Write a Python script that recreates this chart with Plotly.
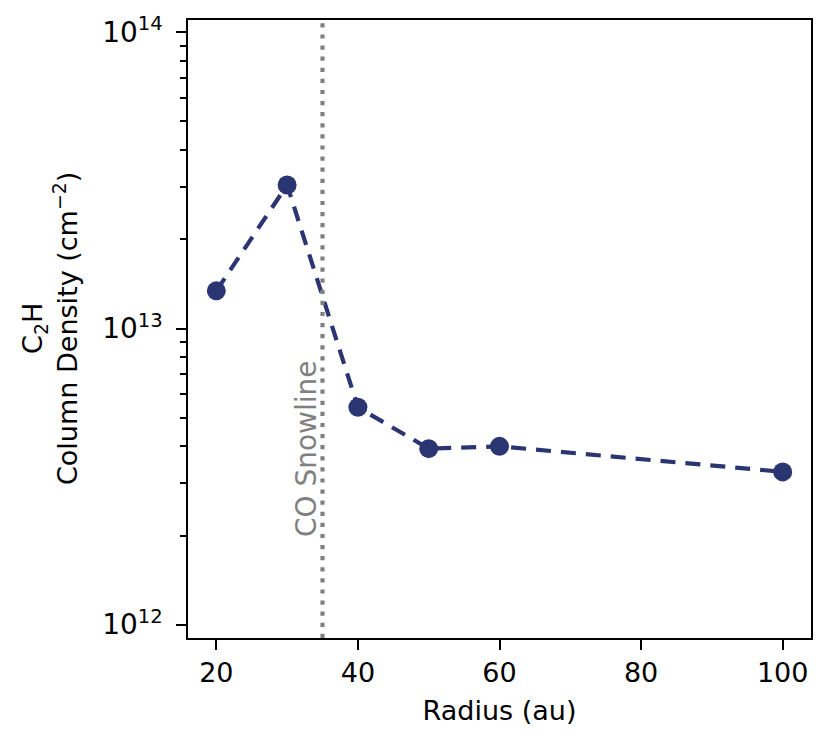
import math
import plotly.graph_objects as go

# Data
radius_au = [20, 30, 40, 50, 60, 100]
c2h_column_density = [1.34e13, 3.05e13, 5.42e12, 3.93e12, 4.0e12, 3.28e12]
co_snowline_au = 35
snowline_label = "CO Snowline"
snowline_label_y = 2.0e12

x_ticks = [20, 40, 60, 80, 100]
y_major = [1e12, 1e13, 1e14]
y_major_text = ["10<sup>12</sup>", "10<sup>13</sup>", "10<sup>14</sup>"]
y_minor = [m * d for d in (1e12, 1e13) for m in range(2, 10)]
y_title = "C<sub>2</sub>H<br>Column Density (cm<sup>\u22122</sup>)"

FONT = "DejaVu Sans"
FS = 27
NAVY = "#2a3572"

fig = go.Figure()
fig.add_trace(go.Scatter(
    x=radius_au, y=c2h_column_density, mode="lines+markers",
    line=dict(color=NAVY, width=4.2, dash="15px,10px"),
    marker=dict(color=NAVY, size=19),
    showlegend=False,
))

fig.add_vline(x=co_snowline_au, line=dict(color="#808080", width=4.2, dash="4.2px,6.9px"))

fig.add_annotation(
    x=co_snowline_au, y=math.log10(snowline_label_y), xref="x", yref="y",
    text=snowline_label, textangle=-90, showarrow=False,
    xanchor="right", yanchor="bottom", xshift=2, yshift=-4,
    font=dict(family=FONT, size=28, color="#808080"),
)

# y-axis title as a rotated two-line annotation
fig.add_annotation(
    x=0, y=0.5, xref="paper", yref="paper",
    text=y_title, textangle=-90, showarrow=False,
    xanchor="center", yanchor="middle", xshift=-138,
    font=dict(family=FONT, size=FS, color="black"),
)

# page body has an 8px default margin, so the figure is sized to fit
fig.update_layout(
    width=823, height=739,
    margin=dict(l=180, r=20, t=12, b=109),
    paper_bgcolor="white", plot_bgcolor="white",
    font=dict(family=FONT, size=FS, color="black"),
)

fig.update_xaxes(
    range=[16, 104], tickmode="array", tickvals=x_ticks, automargin=False,
    showline=True, linecolor="black", linewidth=2.2, mirror=True,
    ticks="outside", ticklen=9.5, tickwidth=2.2, tickcolor="black",
    showgrid=False, zeroline=False,
    tickfont=dict(family=FONT, size=FS),
    title=dict(text="Radius (au)", font=dict(family=FONT, size=FS), standoff=14),
)

fig.update_yaxes(
    type="log", range=[11.955, 14.0416], automargin=False,
    tickmode="array", tickvals=y_major, ticktext=y_major_text,
    minor=dict(tickmode="array", tickvals=y_minor, ticks="outside",
               ticklen=5.6, tickwidth=1.6, tickcolor="black", showgrid=False),
    showline=True, linecolor="black", linewidth=2.2, mirror=True,
    ticks="outside", ticklen=9.5, tickwidth=2.2, tickcolor="black",
    ticklabelstandoff=8,
    showgrid=False, zeroline=False,
    tickfont=dict(family=FONT, size=28),
)

fig.write_html("out.html")
